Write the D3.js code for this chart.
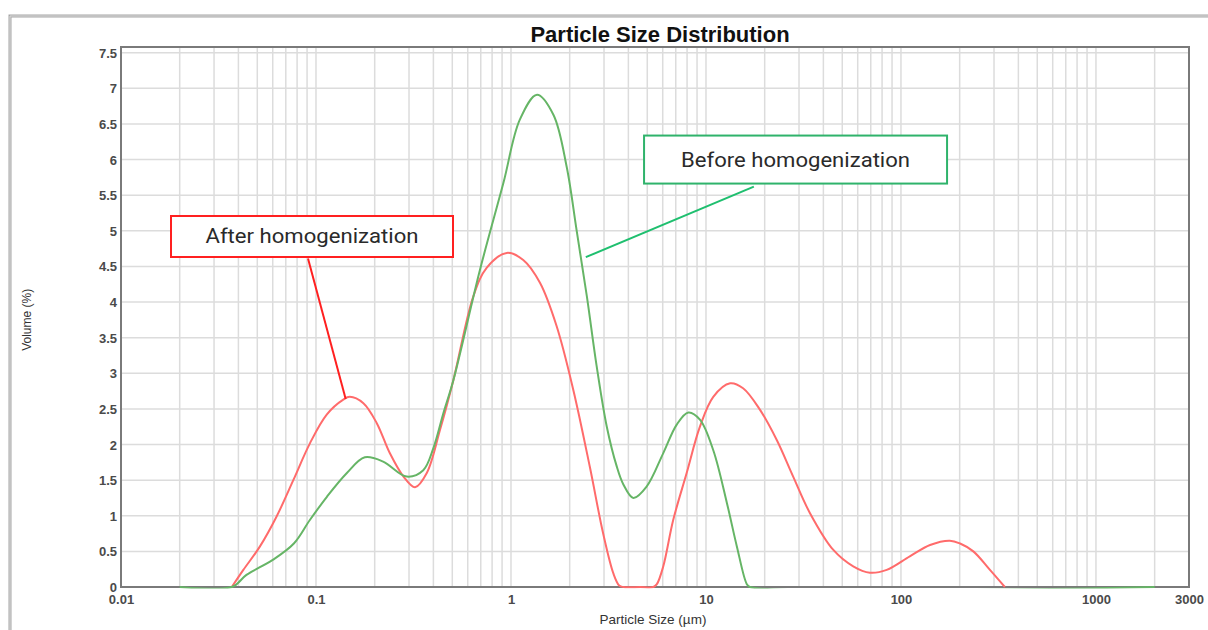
<!DOCTYPE html>
<html>
<head>
<meta charset="utf-8">
<script src="https://cdn.jsdelivr.net/npm/d3@7/dist/d3.min.js"></script>
<style>
  body { margin: 0; background: #fff; }
  svg { display: block; font-family: "Liberation Sans", Arial, sans-serif; }
</style>
</head>
<body>
<div id="chart"></div>
<script>
// particle size (µm) and volume (%)
const beforeSize   = [0.02, 0.037, 0.044, 0.060, 0.077, 0.093, 0.114, 0.144, 0.178, 0.221, 0.292, 0.355, 0.40, 0.45, 0.506,
                      0.693, 0.914, 1.11, 1.36, 1.65, 1.93, 2.17, 2.45, 2.75, 3.10, 3.48, 3.77, 4.24, 4.96, 6.04,
                      7.08, 8.12, 9.31, 10.9, 12.8, 14.4, 16.2, 16.8, 2000];
const beforeVolume = [0, 0, 0.17, 0.38, 0.61, 0.94, 1.27, 1.60, 1.82, 1.76, 1.55, 1.64, 1.95, 2.44, 2.90,
                      4.45, 5.67, 6.56, 6.91, 6.63, 5.90, 5.01, 4.08, 3.10, 2.25, 1.70, 1.44, 1.25, 1.41, 1.88,
                      2.28, 2.45, 2.35, 1.92, 1.18, 0.57, 0.04, 0, 0];

const afterSize    = [0.037, 0.0424, 0.0516, 0.0628, 0.0765, 0.0932, 0.1135, 0.138, 0.149, 0.175, 0.205, 0.239,
                      0.281, 0.322, 0.370, 0.433, 0.506, 0.641, 0.750, 0.951, 1.156, 1.408, 1.715, 2.086, 2.54,
                      2.97, 3.35, 3.59, 3.77, 4.6, 5.37, 5.6, 6.04, 6.79, 7.96, 9.31, 10.9, 13.3, 15.5, 18.9, 23.1,
                      28.0, 34.1, 45.0, 56.9, 69.3, 84.5, 111, 141, 178, 201, 235, 286, 341];
const afterVolume  = [0, 0.24, 0.57, 0.99, 1.50, 2.02, 2.42, 2.63, 2.67, 2.58, 2.30, 1.88,
                      1.55, 1.40, 1.60, 2.21, 2.90, 4.08, 4.48, 4.69, 4.59, 4.27, 3.66, 2.77, 1.68,
                      0.75, 0.19, 0.02, 0, 0, 0, 0.04, 0.29, 0.94, 1.60, 2.25, 2.67, 2.86, 2.79, 2.49, 2.06,
                      1.55, 1.04, 0.52, 0.29, 0.20, 0.24, 0.43, 0.59, 0.65, 0.61, 0.50, 0.24, 0];

const xTicks = [0.01, 0.1, 1, 10, 100, 1000, 3000];
const yTicks = [0, 0.5, 1, 1.5, 2, 2.5, 3, 3.5, 4, 4.5, 5, 5.5, 6, 6.5, 7, 7.5];

const MARGIN = { LEFT: 121, TOP: 47, RIGHT: 19, BOTTOM: 43 };
const WIDTH = 1208 - MARGIN.LEFT - MARGIN.RIGHT;
const HEIGHT = 630 - MARGIN.TOP - MARGIN.BOTTOM;

const GREEN = "#66b566";
const RED = "#ff6b6b";

const svg = d3.select("#chart")
    .append("svg")
    .attr("width", 1208)
    .attr("height", 630);

// window frame at the top / left
svg.append("path")
    .attr("d", "M10,630 V16 H1208")
    .attr("fill", "none")
    .attr("stroke", "#a6a6a6")
    .attr("stroke-width", 3);
svg.append("path")
    .attr("d", "M10,630 V16 H1208")
    .attr("fill", "none")
    .attr("stroke", "#dedede")
    .attr("stroke-width", 1);

svg.append("text")
    .attr("x", 660)
    .attr("y", 42)
    .attr("text-anchor", "middle")
    .style("font-size", "22px")
    .style("font-weight", "bold")
    .attr("fill", "#111")
    .text("Particle Size Distribution");

const g = svg.append("g")
    .attr("transform", `translate(${MARGIN.LEFT}, ${MARGIN.TOP})`);

const x = d3.scaleLog().domain([0.01, 3000]).range([0, WIDTH]);
const y = d3.scaleLinear().domain([0, 7.58]).range([HEIGHT, 0]);

// grid
const minorX = [];
for (let e = -2; e <= 3; e++) {
    for (let k = 1; k <= 9; k++) {
        const v = k * Math.pow(10, e);
        if (v > 0.01 && v < 3000) minorX.push(v);
    }
}
g.append("g").selectAll("line")
    .data(minorX)
    .enter().append("line")
    .attr("x1", d => x(d)).attr("x2", d => x(d))
    .attr("y1", 0).attr("y2", HEIGHT)
    .attr("stroke", "#dcdcdc")
    .attr("stroke-width", 1.5);

g.append("g").selectAll("line")
    .data(yTicks.filter(d => d > 0))
    .enter().append("line")
    .attr("x1", 0).attr("x2", WIDTH)
    .attr("y1", d => y(d)).attr("y2", d => y(d))
    .attr("stroke", "#dcdcdc")
    .attr("stroke-width", 1.5);

// axes
const xAxis = g.append("g")
    .attr("transform", `translate(0, ${HEIGHT})`)
    .call(d3.axisBottom(x).tickValues(xTicks).tickSize(0).tickFormat(d => String(d)));
xAxis.select(".domain").remove();
xAxis.selectAll(".tick text")
    .attr("dy", 0)
    .attr("y", 17)
    .style("font-size", "13px")
    .style("font-weight", "bold")
    .attr("fill", "#4a4a4a");

const yAxis = g.append("g")
    .call(d3.axisLeft(y).tickValues(yTicks).tickSize(0).tickFormat(d => String(d)));
yAxis.select(".domain").remove();
yAxis.selectAll(".tick text")
    .attr("x", -4)
    .attr("dy", "0.35em")
    .style("font-size", "13px")
    .style("font-weight", "bold")
    .attr("fill", "#4a4a4a");

// plot frame
g.append("rect")
    .attr("x", 0).attr("y", 0)
    .attr("width", WIDTH).attr("height", HEIGHT)
    .attr("fill", "none")
    .attr("stroke", "#7a7a7a")
    .attr("stroke-width", 2);

svg.append("text")
    .attr("x", MARGIN.LEFT + x(1) + 142)
    .attr("y", 624)
    .attr("text-anchor", "middle")
    .style("font-size", "13.5px")
    .attr("fill", "#333")
    .text("Particle Size (µm)");

svg.append("text")
    .attr("transform", `translate(31, ${MARGIN.TOP + y(3.75)}) rotate(-90)`)
    .attr("text-anchor", "middle")
    .style("font-size", "12px")
    .attr("fill", "#333")
    .text("Volume (%)");

// curves
g.append("clipPath")
    .attr("id", "plot-clip")
    .append("rect")
    .attr("x", 0).attr("y", 0)
    .attr("width", WIDTH).attr("height", HEIGHT + 1.5);

const line = d3.line()
    .x(d => x(d[0]))
    .y(d => y(d[1]))
    .curve(d3.curveCatmullRom.alpha(0.5));

g.append("path")
    .datum(d3.zip(afterSize, afterVolume))
    .attr("d", line)
    .attr("clip-path", "url(#plot-clip)")
    .attr("fill", "none")
    .attr("stroke", RED)
    .attr("stroke-width", 2);

g.append("path")
    .datum(d3.zip(beforeSize, beforeVolume))
    .attr("d", line)
    .attr("clip-path", "url(#plot-clip)")
    .attr("fill", "none")
    .attr("stroke", GREEN)
    .attr("stroke-width", 2);

// callouts: label centre, leader start and leader end in data units
const callouts = [
    { text: "After homogenization", at: [0.0954, 4.92], w: 282, h: 41, tl: 213,
      from: [0.091, 4.61], to: [0.142, 2.64], box: "#ff2020", lead: "#ff2020" },
    { text: "Before homogenization", at: [28.8, 6.0], w: 303, h: 48, tl: 229,
      from: [17.6, 5.62], to: [2.42, 4.63], box: "#2fb36b", lead: "#1fbf6f" }
];

callouts.forEach(c => {
    const cx = x(c.at[0]), cy = y(c.at[1]);
    g.append("line")
        .attr("x1", x(c.from[0])).attr("y1", y(c.from[1]))
        .attr("x2", x(c.to[0])).attr("y2", y(c.to[1]))
        .attr("stroke", c.lead)
        .attr("stroke-width", 2);
    g.append("rect")
        .attr("x", cx - c.w / 2).attr("y", cy - c.h / 2)
        .attr("width", c.w).attr("height", c.h)
        .attr("fill", "#fff")
        .attr("stroke", c.box)
        .attr("stroke-width", 2);
    g.append("text")
        .attr("x", cx).attr("y", cy + 7)
        .attr("text-anchor", "middle")
        .attr("textLength", c.tl)
        .attr("lengthAdjust", "spacingAndGlyphs")
        .style("font-family", "Roboto, 'Open Sans', sans-serif")
        .style("font-size", "21px")
        .attr("fill", "#2a2a2a")
        .text(c.text);
});
</script>
</body>
</html>
